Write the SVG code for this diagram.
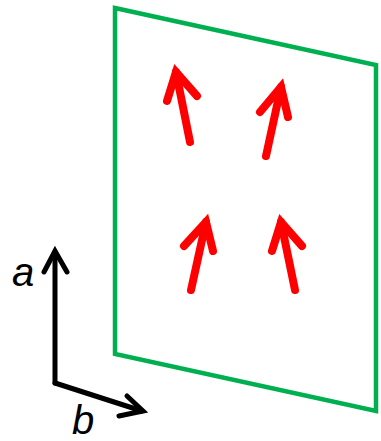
<svg xmlns="http://www.w3.org/2000/svg" width="381" height="441" viewBox="0 0 381 441">
<style>
.plane{fill:none;stroke:#00B050;stroke-width:4.5;stroke-linejoin:miter}
.spin{fill:none;stroke:#FF0000;stroke-width:8;stroke-linecap:round;stroke-linejoin:miter}
.axis{fill:none;stroke:#000;stroke-width:5;stroke-linecap:round;stroke-linejoin:miter}
.lbl{font-family:"Liberation Sans",Arial,sans-serif;font-style:italic;font-size:40px;fill:#000}
</style>
<rect width="381" height="441" fill="#fff"/>
<g id="plane">
<polygon class="plane" points="115,8 376,65 376,411 115,354"/>
</g>
<g id="spins">
<g id="spin1"><path class="spin" d="M190,142 L176,72"/><path class="spin" d="M167,101 L176,72 L197,96"/></g>
<g id="spin2"><path class="spin" d="M266,156 L281,87"/><path class="spin" d="M260,112 L281,87 L288,117"/></g>
<g id="spin3"><path class="spin" d="M191,290 L206,222"/><path class="spin" d="M184,246 L206,222 L213,251"/></g>
<g id="spin4"><path class="spin" d="M295,290 L281,222"/><path class="spin" d="M272,251 L281,222 L302,246"/></g>
</g>
<g id="axes">
<path class="axis" d="M55,383 L55,252"/>
<path class="axis" d="M44,272 L55,251 L67,272"/>
<path class="axis" d="M55,383 L142,411"/>
<path class="axis" d="M127,396 L143,411 L119,416"/>
</g>
<g id="label-a"><text class="lbl" x="12" y="286">a</text></g>
<g id="label-b"><text class="lbl" x="72" y="434">b</text></g>
</svg>
